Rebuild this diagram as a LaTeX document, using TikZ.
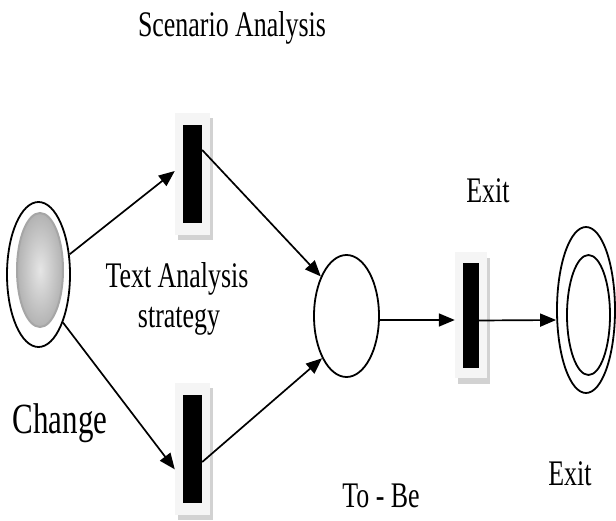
\documentclass[tikz,border=0pt]{standalone}
\usepackage{fontspec}
\setmainfont{Liberation Serif}
\usetikzlibrary{arrows.meta,shapes.geometric}
\tikzset{
  lab/.style={inner sep=0pt, anchor=base, font=\fontsize{36}{42}\selectfont},
  place/.style={ellipse, draw, line width=1.8pt, inner sep=0pt},
  tbox/.style={rectangle, fill=gray!8, inner sep=0pt, minimum width=35pt},
  tshadow/.style={rectangle, fill=gray!35, inner sep=0pt, minimum width=35pt},
  tbar/.style={rectangle, fill=black, inner sep=0pt, minimum width=19pt},
  arr/.style={line width=1.7pt, -{Triangle[length=16pt,width=13pt]}},
}
\newcommand{\sq}[1]{\scalebox{0.72}[1]{#1}}
\begin{document}
\begin{tikzpicture}[x=1pt,y=-1pt]
\useasboundingbox (0,0) rectangle (616,521);
% start place
\node[place, minimum width=63pt, minimum height=145pt] (s) at (38.5,274.5) {};
\node[ellipse, inner sep=0pt, minimum width=46pt, minimum height=114pt,
      inner color=gray!20, outer color=gray!60, draw=gray!70, line width=2pt] (si) at (40,270) {};
% transitions
\node[tshadow, minimum height=122pt] (t1s) at (195.5,179) {};
\node[tbox, minimum height=122pt] (t1) at (192.5,174) {};
\node[tbar, minimum height=98pt] (b1) at (192.5,174) {};
\node[tshadow, minimum height=132pt] (t2s) at (195.5,454) {};
\node[tbox, minimum height=132pt] (t2) at (192.5,449) {};
\node[tbar, minimum height=108pt] (b2) at (192.5,449) {};
\node[tshadow, minimum width=32pt, minimum height=126pt] (t3s) at (474,321) {};
\node[tbox, minimum width=32pt, minimum height=126pt] (t3) at (471,315) {};
\node[tbar, minimum width=16pt, minimum height=105pt] (b3) at (471,315.5) {};
% places
\node[place, minimum width=65pt, minimum height=122pt] (m) at (346.5,316) {};
\node[place, minimum width=58pt, minimum height=166pt] (f) at (586,310) {};
\node[place, minimum width=43pt, minimum height=120pt] (fi) at (588.5,315) {};
% arcs
\draw[arr] (s.33.5) -- ([yshift=3pt]t1.west);
\draw[arr] (s.-63) -- (t2.229);
\draw[arr] ([yshift=24pt]b1.east) -- (m.123);
\draw[arr] ([yshift=-13pt]b2.east) -- (m.-120);
\draw[arr] ([yshift=-4pt]m.east) -- ([yshift=-5pt]t3.west);
\draw[arr] ([yshift=-5pt]b3.east) -- ([yshift=-10pt]f.west);
% labels
\node[lab] (l1) at (232,37) {\sq{Scenario Analysis}};
\node[lab] (l2) at (177,288) {\sq{Text Analysis}};
\node[lab] (l3) at (179,328) {\sq{strategy}};
\node[lab, font=\fontsize{43}{50}\selectfont] (l4) at (60,433) {\sq{Change}};
\node[lab] (l5) at (381,507) {\sq{To - Be}};
\node[lab] (l6) at (488,203) {\sq{Exit}};
\node[lab] (l7) at (570,485) {\sq{Exit}};
\end{tikzpicture}
\end{document}
